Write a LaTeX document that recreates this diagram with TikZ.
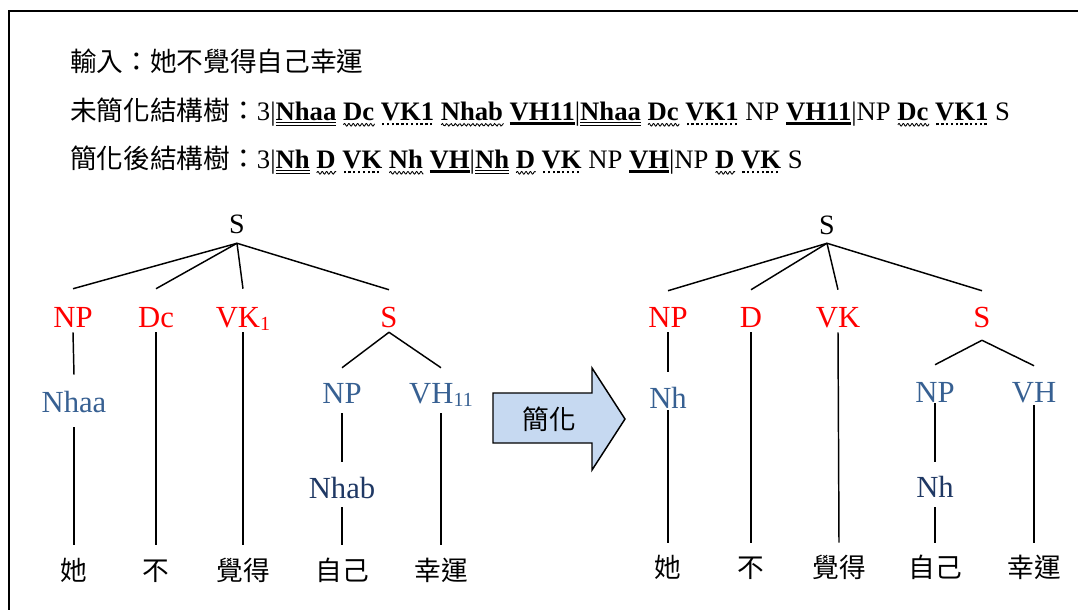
\documentclass[tikz,border=0pt]{standalone}
\usepackage{fontspec}
\setmainfont{Liberation Serif}
\newfontfamily\cjk{Noto Sans CJK TC}
\definecolor{lblue}{RGB}{55,96,146}
\definecolor{dblue}{RGB}{31,56,100}
\definecolor{arrowfill}{RGB}{198,217,241}
\newlength\ulw
\newcommand\hdbl[1]{\settowidth\ulw{\textbf{#1}}\rlap{\rule[-2.4pt]{\ulw}{0.85pt}}\rlap{\rule[-4.8pt]{\ulw}{0.85pt}}\textbf{#1}}
\newcommand\hthk[1]{\settowidth\ulw{\textbf{#1}}\rlap{\rule[-3.8pt]{\ulw}{2pt}}\textbf{#1}}
\newcommand\hdot[1]{\settowidth\ulw{\textbf{#1}}\rlap{\hbox to \ulw{\leaders\hbox to 3.6pt{\hss\rule[-4pt]{1.7pt}{1.7pt}\hss}\hfill}}\textbf{#1}}
\newcommand\hwav[1]{\settowidth\ulw{\textbf{#1}}\rlap{\tikz[baseline=0pt,x=1pt,y=1pt]\draw[line width=0.65pt,black] plot[domain=0:\ulw, samples=50, smooth] (\x,{-3.6+1*sin(\x*110)});}\textbf{#1}}
\newcommand\subs[1]{\raisebox{-2.5pt}{\fontsize{15}{15}\selectfont #1}}
\begin{document}
\begin{tikzpicture}[x=0.75pt,y=-0.75pt,
  lab/.style={inner sep=0pt, anchor=base, font=\fontsize{23}{26}\selectfont},
  rootlab/.style={inner sep=0pt, anchor=base, font=\fontsize{21}{24}\selectfont},
  phr/.style={lab, text=red},
  poslab/.style={lab, text=lblue},
  leaf/.style={lab, text=dblue},
  word/.style={inner sep=0pt, anchor=base, font=\cjk\fontsize{20}{24}\selectfont},
  head/.style={inner sep=0pt, anchor=base west, font=\fontsize{20}{24}\selectfont},
  edge/.style={line width=1.1pt},
  hd/.style 2 args={text height=#1, text depth=#2}
]
\useasboundingbox (0,0) rectangle (1078,610);
\draw[line width=1.7pt] (9,11) rectangle (1100,640);

% header
\node[head] (h1) at (70,72) {{\cjk 輸入：她不覺得自己幸運}};
\node[head] (h2) at (70,120) {{\cjk 未簡化結構樹：}3|\hdbl{Nhaa} \hwav{Dc} \hdot{VK1} \hwav{Nhab} \hthk{VH11}|\hdbl{Nhaa} \hwav{Dc} \hdot{VK1} NP \hthk{VH11}|NP \hwav{Dc} \hdot{VK1} S};
\node[head] (h3) at (70,168) {{\cjk 簡化後結構樹：}3|\hdbl{Nh} \hwav{D} \hdot{VK} \hwav{Nh} \hthk{VH}|\hdbl{Nh} \hwav{D} \hdot{VK} NP \hthk{VH}|NP \hwav{D} \hdot{VK} S};

% left tree
\node[rootlab, hd={15pt}{7.5pt}] (rL) at (237,233) {S};
\node[phr, hd={28.5pt}{3.75pt}] (lNP) at (73,327) {NP};
\node[phr, hd={28.5pt}{3.75pt}] (lDc) at (156,327) {Dc};
\node[phr, hd={28.5pt}{3.75pt}] (lVK) at (243,327) {VK\subs{1}};
\node[phr, hd={27.75pt}{3.75pt}] (lS) at (389,327) {S};
\node[poslab, hd={27.75pt}{11.25pt}] (lNhaa) at (74,412) {Nhaa};
\node[poslab, hd={26.25pt}{7.5pt}] (lNP2) at (342,403) {NP};
\node[poslab, hd={26.25pt}{7.5pt}] (lVH) at (441,403) {VH\subs{11}};
\node[leaf, hd={27pt}{6.75pt}] (lNhab) at (342,498) {Nhab};
\node[word, hd={26.25pt}{0pt}] (lw1) at (74,580) {她};
\node[word, hd={26.25pt}{0pt}] (lw2) at (156,580) {不};
\node[word, hd={26.25pt}{0pt}] (lw3) at (243,580) {覺得};
\node[word, hd={26.25pt}{0pt}] (lw4) at (342,580) {自己};
\node[word, hd={26.25pt}{0pt}] (lw5) at (441,580) {幸運};
\draw[edge] (rL.south) -- (lNP.north);
\draw[edge] (rL.south) -- (lDc.north);
\draw[edge] (rL.south) -- (lVK.north);
\draw[edge] (rL.south) -- (lS.north);
\draw[edge] (lNP.south) -- (lNhaa.north);
\draw[edge] (lNhaa.south) -- (lw1.north);
\draw[edge] (lDc.south) -- (lw2.north);
\draw[edge] (lVK.south) -- (lw3.north);
\draw[edge] (lS.south) -- (lNP2.north);
\draw[edge] (lS.south) -- (lVH.north);
\draw[edge] (lNP2.south) -- (lNhab.north);
\draw[edge] (lNhab.south) -- (lw4.north);
\draw[edge] (lVH.south) -- (lw5.north);

% arrow
\draw[line width=1.1pt, fill=arrowfill] (493,393) -- (592,393) -- (592,368) -- (625,419) -- (592,470) -- (592,443) -- (493,443) -- cycle;
\node[inner sep=0pt, font=\cjk\fontsize{20}{24}\selectfont] (arr) at (549,419) {簡化};

% right tree
\node[rootlab, hd={15pt}{6.75pt}] (rR) at (827,234) {S};
\node[phr, hd={27pt}{3.75pt}] (rNP) at (668,327) {NP};
\node[phr, hd={27.75pt}{3.75pt}] (rD) at (751,327) {D};
\node[phr, hd={27.75pt}{3.75pt}] (rVK) at (838,327) {VK};
\node[phr, hd={27pt}{9.75pt}] (rS) at (982,327) {S};
\node[poslab, hd={27pt}{1.5pt}] (rNh) at (668,408) {Nh};
\node[poslab, hd={27.75pt}{0.75pt}] (rNP2) at (935,402) {NP};
\node[poslab, hd={27pt}{2.25pt}] (rVH) at (1034,402) {VH};
\node[leaf, hd={26.25pt}{7.5pt}] (rNh2) at (935,497) {Nh};
\node[word, hd={25.5pt}{0pt}] (rw1) at (668,577) {她};
\node[word, hd={25.5pt}{0pt}] (rw2) at (751,577) {不};
\node[word, hd={25.5pt}{0pt}] (rw3) at (839,577) {覺得};
\node[word, hd={25.5pt}{0pt}] (rw4) at (935,577) {自己};
\node[word, hd={25.5pt}{0pt}] (rw5) at (1034,577) {幸運};
\draw[edge] (rR.south) -- (rNP.north);
\draw[edge] (rR.south) -- (rD.north);
\draw[edge] (rR.south) -- (rVK.north);
\draw[edge] (rR.south) -- (rS.north);
\draw[edge] (rNP.south) -- (rNh.north);
\draw[edge] (rNh.south) -- (rw1.north);
\draw[edge] (rD.south) -- (rw2.north);
\draw[edge] (rVK.south) -- (rw3.north);
\draw[edge] (rS.south) -- (rNP2.north);
\draw[edge] (rS.south) -- (rVH.north);
\draw[edge] (rNP2.south) -- (rNh2.north);
\draw[edge] (rNh2.south) -- (rw4.north);
\draw[edge] (rVH.south) -- (rw5.north);
\end{tikzpicture}
\end{document}
